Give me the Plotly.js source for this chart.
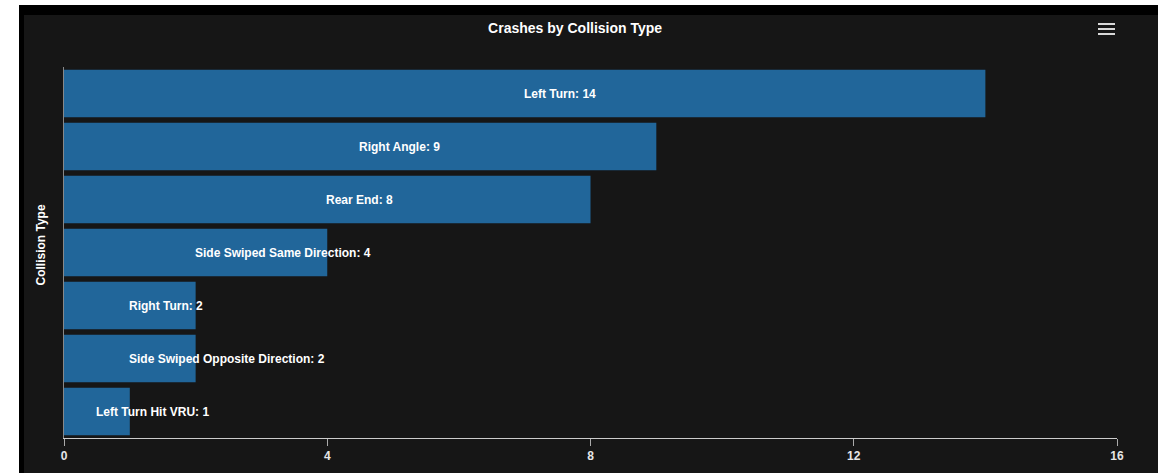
<!DOCTYPE html>
<html>
<head>
<meta charset="utf-8">
<script src="https://cdn.plot.ly/plotly-3.0.1.min.js"></script>
<style>
  html, body { margin: 0; padding: 0; background: #ffffff; width: 1170px; height: 473px; overflow: hidden; }
  #frame { position: absolute; left: 19px; top: 5px; width: 1139px; height: 468px; background: #000000; }
  #chart { position: absolute; left: 24px; top: 15px; width: 1134px; height: 458px; }
  #menu { position: absolute; left: 1098px; top: 23px; width: 17px; height: 13px; }
  #menu span { display: block; height: 2px; background: #d8d8d8; margin-bottom: 3px; }
</style>
</head>
<body>
<div id="frame"></div>
<div id="chart"></div>
<div id="menu"><span></span><span></span><span></span></div>
<script>
const categories = ["Left Turn", "Right Angle", "Rear End", "Side Swiped Same Direction", "Right Turn", "Side Swiped Opposite Direction", "Left Turn Hit VRU"];
const crashCounts = [14, 9, 8, 4, 2, 2, 1];
const xTickValues = [0, 4, 8, 12, 16];

const barTrace = {
  type: "bar",
  orientation: "h",
  x: crashCounts,
  y: categories,
  marker: { color: "#21669a", line: { width: 0 } },
  hoverinfo: "none"
};

const labelAnnotations = categories.map((c, i) => ({
  x: crashCounts[i] / 2,
  y: c,
  xref: "x",
  yref: "y",
  xshift: -3,
  text: c + ": " + crashCounts[i],
  showarrow: false,
  xanchor: "left",
  yanchor: "middle",
  font: { family: "Liberation Sans, Arial, sans-serif", size: 12, color: "#ffffff", weight: "bold" }
}));

labelAnnotations.push({
  xref: "paper", yref: "paper",
  x: 0, y: 0.5, xshift: -24, yshift: 7,
  text: "Collision Type",
  textangle: -90,
  showarrow: false,
  xanchor: "center", yanchor: "middle",
  font: { family: "Liberation Sans, Arial, sans-serif", size: 12, color: "#ffffff", weight: "bold" }
});

const layout = {
  width: 1134,
  height: 458,
  paper_bgcolor: "#161616",
  plot_bgcolor: "#161616",
  margin: { l: 40, r: 41, t: 52, b: 35 },
  title: {
    text: "Crashes by Collision Type",
    x: 0.486, xref: "container", xanchor: "center",
    y: 0.972, yref: "container", yanchor: "middle",
    font: { family: "Liberation Sans, Arial, sans-serif", size: 14, color: "#ffffff", weight: "bold" }
  },
  bargap: 0.1,
  showlegend: false,
  xaxis: {
    range: [0, 16],
    tickvals: xTickValues,
    ticktext: xTickValues.map(String),
    showgrid: false,
    zeroline: false,
    showline: true,
    linecolor: "#cccccc",
    linewidth: 1,
    ticks: "outside",
    ticklen: 7,
    tickcolor: "#aaaaaa",
    tickfont: { family: "Liberation Sans, Arial, sans-serif", size: 12, color: "#e6e6e6", weight: "bold" },
    fixedrange: true
  },
  yaxis: {
    type: "category",
    autorange: "reversed",
    showticklabels: false,
    showgrid: false,
    zeroline: false,
    showline: true,
    linecolor: "#888888",
    linewidth: 1,
    ticks: "",
    fixedrange: true
  },
  annotations: labelAnnotations
};

Plotly.newPlot("chart", [barTrace], layout, { displayModeBar: false, staticPlot: true });
</script>
</body>
</html>
